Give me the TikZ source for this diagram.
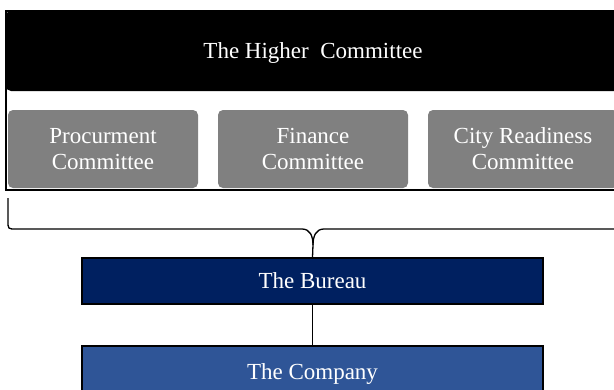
\documentclass[tikz,border=0pt]{standalone}
\usepackage{fontspec}
\setmainfont{Liberation Serif}
\definecolor{greybox}{HTML}{808080}
\definecolor{bureaublue}{HTML}{002060}
\definecolor{companyblue}{HTML}{2F5597}
\begin{document}
\begin{tikzpicture}[x=1pt,y=-1pt,
  lbl/.style={text=white,font=\fontsize{23}{26}\selectfont,align=center,inner sep=0pt,text depth=0pt},
  topbox/.style={lbl,fill=black,rounded corners=5pt,minimum width=614pt,minimum height=80pt},
  subbox/.style={lbl,fill=greybox,rounded corners=5pt,minimum width=190pt,minimum height=78pt},
  unitbox/.style={lbl,draw=black,line width=1.6pt,minimum width=461pt,minimum height=46pt},
  conn/.style={draw=black,line width=1.3pt}]
\useasboundingbox (0,0) rectangle (614,389);
\clip (0,0) rectangle (614,389);
% frame
\draw[black,line width=1.8pt] (6,11) rectangle (640,190);
\node[topbox] (higher) at (313,51) {The Higher\ \ Committee};
\node[subbox] (proc) at (103,149) {Procurment\\Committee};
\node[subbox] (fin) at (313,149) {Finance\\Committee};
\node[subbox] (city) at (523,149) {City Readiness\\Committee};
\node[unitbox,fill=bureaublue] (bureau) at (312.5,281) {The Bureau};
\node[unitbox,fill=companyblue,minimum height=52pt] (company) at (312.5,372) {The Company};
% brace
\coordinate (braceL) at (8,198);
\coordinate (braceR) at (640,229);
\coordinate (tip) at (bureau.north);
\draw[conn] (braceL) -- (8,221) .. controls (8,229) .. (16,229) -- (302,229)
  .. controls (310,229) and (313,236) .. (313,245) -- (tip);
\draw[conn] (313,245) .. controls (313,236) and (316,229) .. (324,229) -- (braceR);
\draw[conn,line width=1pt] (bureau.south) -- (company.north);
\end{tikzpicture}
\end{document}
